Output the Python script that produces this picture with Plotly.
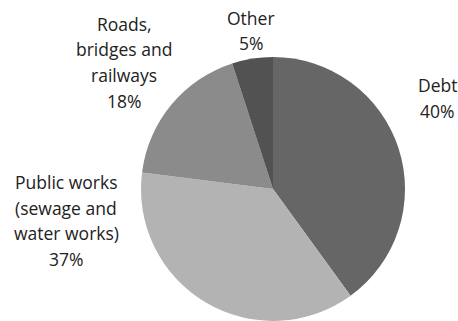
import plotly.graph_objects as go

labels = ["Debt", "Public works (sewage and water works)", "Roads, bridges and railways", "Other"]
label_lines = [["Debt"], ["Public works", "(sewage and", "water works)"], ["Roads,", "bridges and", "railways"], ["Other"]]
values = [40, 37, 18, 5]
colors = ["#666666", "#b3b3b3", "#8b8b8b", "#525252"]

W, H = 458, 321

fig = go.Figure(go.Pie(
    labels=labels, values=values, sort=False, direction="clockwise", rotation=0,
    marker=dict(colors=colors, line=dict(width=0)),
    textinfo="none", hoverinfo="label+percent", showlegend=False,
    domain=dict(x=[140 / W, 406 / W], y=[0, 1 - 57 / H]),
))

# label block centres (pixels): x centre, y of first line
anchors = [(437, 85), (66, 182), (124, 24), (251, 18)]
line_gap = 25.5
annotations = []
for lines, v, (cx, y0) in zip(label_lines, values, anchors):
    for i, t in enumerate(lines + [f"{v}%"]):
        annotations.append(dict(
            x=cx / W, y=1 - (y0 + i * line_gap) / H, xref="paper", yref="paper",
            text=t, showarrow=False, xanchor="center", yanchor="middle",
            font=dict(family="Open Sans", size=17.5, color="#222222"),
        ))

fig.update_layout(
    width=W, height=H, margin=dict(l=0, r=0, t=0, b=0),
    paper_bgcolor="white", plot_bgcolor="white",
    annotations=annotations,
)
fig.write_html("out.html", config={"displayModeBar": False},
               post_script="document.body.style.margin='0';document.body.style.overflow='hidden';")
